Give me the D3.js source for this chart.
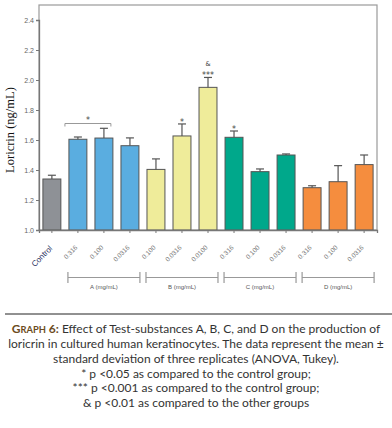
<!DOCTYPE html>
<html>
<head>
<meta charset="utf-8">
<script src="https://cdn.jsdelivr.net/npm/d3@7"></script>
<style>
  body { margin: 0; background: #fff; }
</style>
</head>
<body>
<div id="chart"></div>
<script>
// data
const labels = ["Control", "0.316", "0.100", "0.0316", "0.100", "0.0316", "0.0100",
                "0.316", "0.100", "0.0316", "0.316", "0.100", "0.0316"];
const groupOf = ["ctrl", "A", "A", "A", "B", "B", "B", "C", "C", "C", "D", "D", "D"];
const means = [1.34, 1.605, 1.613, 1.562, 1.404, 1.627, 1.951, 1.618, 1.389, 1.50, 1.282, 1.322, 1.436];
const sds = [0.025, 0.015, 0.065, 0.052, 0.07, 0.08, 0.066, 0.042, 0.018, 0.007, 0.013, 0.107, 0.064];
const stars = ["", "", "", "", "", "*", "***", "*", "", "", "", "", ""];
const amps = ["", "", "", "", "", "", "&", "", "", "", "", "", ""];
const groups = ["A", "B", "C", "D"];
const groupLabels = ["A (mg/mL)", "B (mg/mL)", "C (mg/mL)", "D (mg/mL)"];
const yTicks = [1.0, 1.2, 1.4, 1.6, 1.8, 2.0, 2.2, 2.4];
const captionLines = [
  "loricrin in cultured human keratinocytes. The data represent the mean \u00b1",
  "standard deviation of three replicates (ANOVA, Tukey).",
  "* p <0.05 as compared to the control group;",
  "*** p <0.001 as compared to the control group;",
  "& p <0.01 as compared to the other groups"
];

const colors = { ctrl: "#8e9196", A: "#5aade0", B: "#efec9a", C: "#00a88b", D: "#f58d3e" };

const width = 392, height = 428;
const margin = { top: 5, left: 39, right: 15, bottom: 198 };

const svg = d3.select("#chart").append("svg")
  .attr("width", width)
  .attr("height", height);

const x = d3.scaleBand()
  .domain(d3.range(labels.length))
  .range([margin.left, width - margin.right])
  .paddingInner(0.31)
  .paddingOuter(0.15);

const y = d3.scaleLinear()
  .domain([1.0, 2.4])
  .range([230, 20]);

// plot frame
svg.append("rect")
  .attr("x", margin.left)
  .attr("y", margin.top)
  .attr("width", width - margin.right - margin.left)
  .attr("height", 230 - margin.top)
  .attr("fill", "none")
  .attr("stroke", "#9a9a9a")
  .attr("stroke-width", 1.2);

// bars
svg.selectAll(".bar")
  .data(means)
  .enter().append("rect")
  .attr("x", (d, i) => x(i))
  .attr("y", d => y(d))
  .attr("width", x.bandwidth())
  .attr("height", d => y(1.0) - y(d))
  .attr("fill", (d, i) => colors[groupOf[i]])
  .attr("stroke", "#555")
  .attr("stroke-width", 1);

// error bars (upper only)
means.forEach((m, i) => {
  const cx = x(i) + x.bandwidth() / 2;
  svg.append("line")
    .attr("x1", cx).attr("x2", cx)
    .attr("y1", y(m)).attr("y2", y(m + sds[i]))
    .attr("stroke", "#555").attr("stroke-width", 1.2);
  svg.append("line")
    .attr("x1", cx - 4).attr("x2", cx + 4)
    .attr("y1", y(m + sds[i])).attr("y2", y(m + sds[i]))
    .attr("stroke", "#555").attr("stroke-width", 1.2);
  if (stars[i]) {
    svg.append("text")
      .attr("x", cx)
      .attr("y", y(m + sds[i]) + 1)
      .attr("text-anchor", "middle")
      .attr("font-family", "DejaVu Sans")
      .attr("font-size", 8)
      .attr("fill", "#444")
      .text(stars[i]);
  }
  if (amps[i]) {
    svg.append("text")
      .attr("x", cx)
      .attr("y", y(m + sds[i]) - 11)
      .attr("text-anchor", "middle")
      .attr("font-family", "DejaVu Sans")
      .attr("font-size", 6.5)
      .attr("fill", "#444")
      .text(amps[i]);
  }
});

// significance bracket across the A group
const bx1 = x(1) - 4, bx2 = x(2) + x.bandwidth() - 2;
const by = y(1.71);
svg.append("path")
  .attr("d", `M${bx1},${by + 3}V${by}H${bx2}V${by + 3}`)
  .attr("fill", "none")
  .attr("stroke", "#999")
  .attr("stroke-width", 1);
svg.append("text")
  .attr("x", (bx1 + bx2) / 2)
  .attr("y", by - 1)
  .attr("text-anchor", "middle")
  .attr("font-family", "DejaVu Sans")
  .attr("font-size", 8)
  .attr("fill", "#444")
  .text("*");

// y axis
const yAxis = svg.append("g")
  .attr("transform", `translate(${margin.left},0)`)
  .call(d3.axisLeft(y).tickValues(yTicks).tickFormat(d3.format(".1f")).tickSize(3));
yAxis.select(".domain").attr("stroke", "#777").attr("stroke-width", 1.3);
yAxis.selectAll(".tick line").attr("stroke", "#777");
yAxis.selectAll(".tick text")
  .attr("font-family", "Liberation Sans")
  .attr("font-size", 7)
  .attr("fill", "#666")
  .attr("x", -5);

// x axis
const xAxis = svg.append("g")
  .attr("transform", `translate(0,${y(1.0)})`)
  .call(d3.axisBottom(x).tickSize(3).tickFormat(i => labels[i]));
xAxis.select(".domain").attr("stroke", "#777").attr("stroke-width", 1.3);
xAxis.selectAll(".tick line").attr("stroke", "#777");
xAxis.selectAll(".tick text")
  .attr("font-family", "Liberation Sans")
  .attr("font-size", (i) => i === 0 ? 8 : 6.5)
  .attr("fill", (i) => i === 0 ? "#1c2a5a" : "#777")
  .attr("text-anchor", "end")
  .attr("dy", 0)
  .attr("transform", (i) => i === 0 ? "translate(1,19) rotate(-45)" : "translate(0,18) rotate(-45)")
  .attr("y", 0);

// group brackets under the axis
groups.forEach((g, k) => {
  const idx = groupOf.map((v, i) => v === g ? i : -1).filter(i => i >= 0);
  const gx1 = x(idx[0]) - 1;
  const gx2 = x(idx[idx.length - 1]) + x.bandwidth() + 1;
  svg.append("path")
    .attr("d", `M${gx1},272V283M${gx1},277.5H${gx2}M${gx2},272V283`)
    .attr("fill", "none")
    .attr("stroke", "#999")
    .attr("stroke-width", 1.2);
  svg.append("text")
    .attr("x", (gx1 + gx2) / 2)
    .attr("y", 289)
    .attr("text-anchor", "middle")
    .attr("font-family", "Liberation Sans")
    .attr("font-size", 6)
    .attr("fill", "#555")
    .text(groupLabels[k]);
});

// y axis title
svg.append("text")
  .attr("transform", "translate(14,130) rotate(-90)")
  .attr("text-anchor", "middle")
  .attr("font-family", "Liberation Serif")
  .attr("font-size", 12.5)
  .attr("fill", "#111")
  .text("Loricrin (ng/mL)");

// divider line
svg.append("line")
  .attr("x1", 5).attr("x2", width)
  .attr("y1", 314).attr("y2", 314)
  .attr("stroke", "#222")
  .attr("stroke-width", 1);

// caption
const capSize = 12;
const cap = svg.append("text")
  .attr("x", width / 2)
  .attr("y", 333)
  .attr("text-anchor", "middle")
  .attr("font-family", "Lato")
  .attr("font-size", capSize)
  .attr("fill", "#333");
cap.append("tspan").attr("fill", "#6b4c1e").attr("font-weight", "bold").text("G");
cap.append("tspan").attr("fill", "#6b4c1e").attr("font-weight", "bold").attr("font-size", 9.3).text("RAPH");
cap.append("tspan").attr("fill", "#6b4c1e").attr("font-weight", "bold").text(" 6:");
cap.append("tspan").text(" Effect of Test-substances A, B, C, and D on the production of");

captionLines.forEach((line, i) => {
  svg.append("text")
    .attr("x", width / 2)
    .attr("y", 348 + i * 14.8)
    .attr("text-anchor", "middle")
    .attr("font-family", "Lato")
    .attr("font-size", capSize)
    .attr("fill", "#333")
    .text(line);
});
</script>
</body>
</html>
